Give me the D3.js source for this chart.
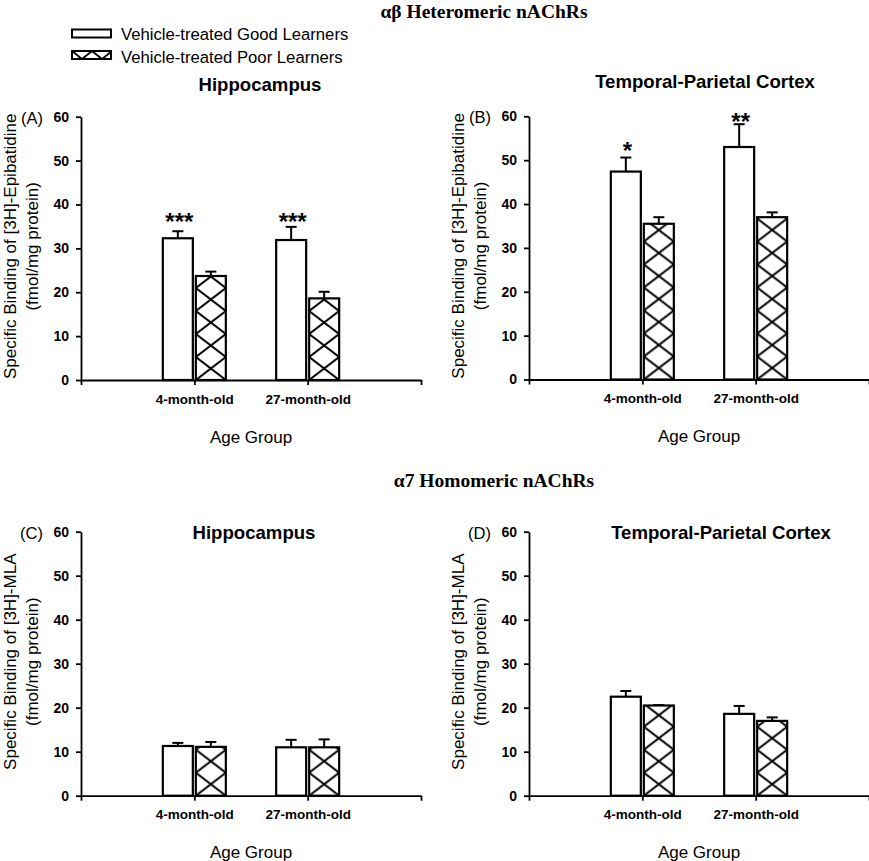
<!DOCTYPE html>
<html>
<head>
<meta charset="utf-8">
<script src="https://cdn.jsdelivr.net/npm/d3@7"></script>
<style>
  html, body { margin: 0; padding: 0; background: #fff; }
  svg { display: block; }
  text { font-family: "Liberation Sans", Arial, sans-serif; fill: #000; }
</style>
</head>
<body>
<div id="chart"></div>
<script>
// ---------------- DATA ----------------
const categories = ["4-month-old", "27-month-old"];
const seriesNames = ["Vehicle-treated Good Learners", "Vehicle-treated Poor Learners"];
const yTicks = [0, 10, 20, 30, 40, 50, 60];

// Panel A: alpha-beta, Hippocampus
const goodA = [32.3, 31.9];
const goodSemA = [1.6, 3.0];
const poorA = [23.7, 18.6];
const poorSemA = [1.0, 1.5];
const starsA = ["***", "***"];
const starValA = [37.2, 37.2];

// Panel B: alpha-beta, Temporal-Parietal Cortex
const goodB = [47.4, 53.0];
const goodSemB = [3.2, 5.2];
const poorB = [35.5, 37.0];
const poorSemB = [1.5, 1.1];
const starsB = ["*", "**"];
const starValB = [53.4, 60.0];

// Panel C: alpha7, Hippocampus
const goodC = [11.3, 11.0];
const goodSemC = [0.7, 1.7];
const poorC = [11.1, 11.0];
const poorSemC = [1.1, 1.8];

// Panel D: alpha7, Temporal-Parietal Cortex
const goodD = [22.5, 18.6];
const goodSemD = [1.3, 1.8];
const poorD = [20.5, 17.0];
const poorSemD = [0.1, 0.8];

const headerTop = "\u03b1\u03b2 Heteromeric nAChRs";
const headerBottom = "\u03b17 Homomeric nAChRs";
const xAxisTitle = "Age Group";
const yLabelEpi = ["Specific Binding of [3H]-Epibatidine", "(fmol/mg protein)"];
const yLabelMLA = ["Specific Binding of [3H]-MLA", "(fmol/mg protein)"];

// ---------------- LAYOUT ----------------
const W = 869, H = 861;
const panels = [
  { tag: "(A)", title: "Hippocampus", ylab: yLabelEpi, good: goodA, goodSem: goodSemA, poor: poorA, poorSem: poorSemA, stars: starsA, starVal: starValA,
    x0: 81, x1: 421, yTop: 116.7, yBot: 380, titleX: 260, titleY: 91 },
  { tag: "(B)", title: "Temporal-Parietal Cortex", ylab: yLabelEpi, good: goodB, goodSem: goodSemB, poor: poorB, poorSem: poorSemB, stars: starsB, starVal: starValB,
    x0: 529, x1: 869, yTop: 116.3, yBot: 379.5, titleX: 705, titleY: 88 },
  { tag: "(C)", title: "Hippocampus", ylab: yLabelMLA, good: goodC, goodSem: goodSemC, poor: poorC, poorSem: poorSemC, stars: null, starVal: null,
    x0: 81, x1: 421, yTop: 531.7, yBot: 795.7, titleX: 254, titleY: 539 },
  { tag: "(D)", title: "Temporal-Parietal Cortex", ylab: yLabelMLA, good: goodD, goodSem: goodSemD, poor: poorD, poorSem: poorSemD, stars: null, starVal: null,
    x0: 529, x1: 869, yTop: 531.7, yBot: 795.7, titleX: 721, titleY: 539 }
];

const svg = d3.select("#chart").append("svg")
  .attr("width", W).attr("height", H)
  .attr("viewBox", `0 0 ${W} ${H}`);

const defs = svg.append("defs");
let patCount = 0;
function makeHatch(x, y, w, h, sw) {
  const id = "hatch" + (patCount++);
  const p = defs.append("pattern")
    .attr("id", id)
    .attr("patternUnits", "userSpaceOnUse")
    .attr("x", x).attr("y", y)
    .attr("width", w).attr("height", h);
  p.append("rect").attr("width", w).attr("height", h).attr("fill", "#fff");
  let d = "";
  for (const s of [-w, 0, w]) {
    d += `M${s - w},${-h} L${s + 2 * w},${2 * h} `;
    d += `M${s + 2 * w},${-h} L${s - w},${2 * h} `;
  }
  p.append("path").attr("d", d).attr("stroke", "#000").attr("stroke-width", sw).attr("fill", "none");
  return id;
}

// ---------------- HEADERS ----------------
svg.append("text").attr("x", 484).attr("y", 18).attr("text-anchor", "middle")
  .style("font-family", "'Liberation Serif', 'Times New Roman', serif")
  .style("font-weight", "bold").style("font-size", "19.5px").text(headerTop);
svg.append("text").attr("x", 494).attr("y", 487).attr("text-anchor", "middle")
  .style("font-family", "'Liberation Serif', 'Times New Roman', serif")
  .style("font-weight", "bold").style("font-size", "19.5px").text(headerBottom);

// ---------------- LEGEND ----------------
const legend = svg.append("g");
legend.append("rect").attr("x", 72).attr("y", 29.5).attr("width", 39).attr("height", 8)
  .attr("fill", "#fff").attr("stroke", "#000").attr("stroke-width", 2);
const legHatch = makeHatch(72, 51, 20, 16, 1.8);
legend.append("rect").attr("x", 72).attr("y", 51).attr("width", 39).attr("height", 8)
  .attr("fill", `url(#${legHatch})`).attr("stroke", "#000").attr("stroke-width", 2);
legend.append("text").attr("x", 121).attr("y", 40).style("font-size", "16.7px").text(seriesNames[0]);
legend.append("text").attr("x", 121).attr("y", 63).style("font-size", "16.7px").text(seriesNames[1]);

// ---------------- PANELS ----------------
panels.forEach(P => {
  const g = svg.append("g");
  const y = d3.scaleLinear().domain([0, 60]).range([P.yBot, P.yTop]);
  const x = d3.scaleLinear().domain([0, 3]).range([P.x0, P.x1]);
  const xs = d3.scaleBand().domain([0, 1]).range([-31.5, 31.5]).paddingInner(3 / 33).paddingOuter(0);

  // y axis
  const yAxis = g.append("g").attr("transform", `translate(${P.x0},0)`)
    .call(d3.axisLeft(y).tickValues(yTicks).tickSize(5).tickPadding(7).tickSizeOuter(0));
  yAxis.select(".domain").attr("stroke", "#000").attr("stroke-width", 1.8);
  yAxis.selectAll(".tick line").attr("stroke", "#000").attr("stroke-width", 1.8);
  yAxis.selectAll(".tick text").style("font-family", "'Liberation Sans', Arial, sans-serif")
    .style("font-size", "14px").style("font-weight", "bold").attr("fill", "#000");

  // bars
  const rows = [];
  categories.forEach((c, i) => {
    rows.push({ ci: i, si: 0, v: P.good[i], e: P.goodSem[i] });
    rows.push({ ci: i, si: 1, v: P.poor[i], e: P.poorSem[i] });
  });
  rows.forEach(r => {
    const bx = x(r.ci + 1) + xs(r.si);
    const bw = xs.bandwidth();
    const by = y(r.v);
    const bh = y(0) - y(r.v);
    // error bar (upward only)
    g.append("line").attr("x1", bx + bw / 2).attr("x2", bx + bw / 2)
      .attr("y1", by).attr("y2", y(r.v + r.e)).attr("stroke", "#000").attr("stroke-width", 2);
    g.append("line").attr("x1", bx + bw / 2 - 5.5).attr("x2", bx + bw / 2 + 5.5)
      .attr("y1", y(r.v + r.e)).attr("y2", y(r.v + r.e)).attr("stroke", "#000").attr("stroke-width", 2);
    let fill = "#fff";
    if (r.si === 1) {
      const id = makeHatch(bx, y(0), bw, 23, 2);
      fill = `url(#${id})`;
    }
    g.append("rect").attr("x", bx).attr("y", by).attr("width", bw).attr("height", bh)
      .attr("fill", fill).attr("stroke", "#000").attr("stroke-width", 2.2);
  });

  // x axis
  const xAxis = g.append("g").attr("transform", `translate(0,${P.yBot})`)
    .call(d3.axisBottom(x).tickValues([0, 1, 2, 3]).tickSize(5).tickPadding(9).tickSizeOuter(0)
      .tickFormat(d => (d >= 1 && d <= categories.length) ? categories[d - 1] : ""));
  xAxis.select(".domain").attr("stroke", "#000").attr("stroke-width", 1.8);
  xAxis.selectAll(".tick line").attr("stroke", "#000").attr("stroke-width", 1.8);
  xAxis.selectAll(".tick text").style("font-family", "'Liberation Sans', Arial, sans-serif")
    .style("font-size", "13.5px").style("font-weight", "bold").attr("fill", "#000");

  // stars
  if (P.stars) {
    P.stars.forEach((s, i) => {
      g.append("text").attr("x", x(i + 1) + xs(0) + xs.bandwidth() / 2 + 1.5)
        .attr("y", y(P.starVal[i]) + 13.5).attr("text-anchor", "middle")
        .style("font-size", "24px").style("font-weight", "bold").text(s);
    });
  }

  // panel title
  g.append("text").attr("x", P.titleX).attr("y", P.titleY).attr("text-anchor", "middle")
    .style("font-size", "18.6px").style("font-weight", "bold").text(P.title);

  // tag
  g.append("text").attr("x", P.x0 - 38).attr("y", P.yTop + 7).attr("text-anchor", "end")
    .style("font-size", "16.5px").text(P.tag);

  // y label
  const cy = (P.yTop + P.yBot) / 2 - 2;
  g.append("text").attr("transform", `translate(${P.x0 - 65.5},${cy}) rotate(-90)`)
    .attr("text-anchor", "middle").style("font-size", "17px").text(P.ylab[0]);
  g.append("text").attr("transform", `translate(${P.x0 - 43},${cy}) rotate(-90)`)
    .attr("text-anchor", "middle").style("font-size", "17px").text(P.ylab[1]);

  // x axis title
  g.append("text").attr("x", (P.x0 + P.x1) / 2).attr("y", P.yBot + 62.5).attr("text-anchor", "middle")
    .style("font-size", "17px").text(xAxisTitle);
});
</script>
</body>
</html>
